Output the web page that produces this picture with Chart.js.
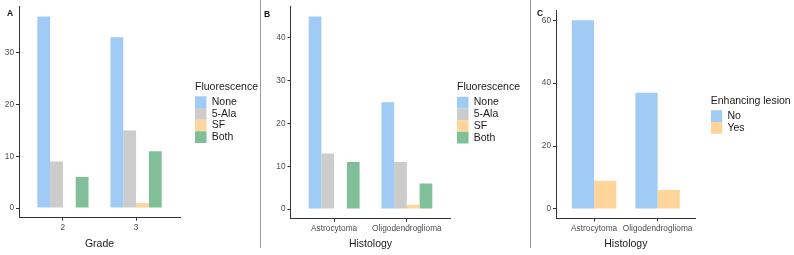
<!DOCTYPE html>
<html>
<head>
<meta charset="utf-8">
<script src="https://cdn.jsdelivr.net/npm/chart.js@4.4.1/dist/chart.umd.min.js"></script>
<style>
  body { margin: 0; background: #fff; font-family: "Liberation Sans", Arial, sans-serif; }
  #wrap { position: relative; width: 794px; height: 255px; overflow: hidden; }
  canvas { position: absolute; top: 0; }
  .sep { position: absolute; top: 0; width: 1px; height: 248px; background: #9a9a9a; }
  .tag { position: absolute; font-weight: bold; font-size: 8.5px; color: #111; line-height: 1; }
</style>
</head>
<body>
<div id="wrap">
  <canvas id="chartA" width="260" height="255" style="left:0px"></canvas>
  <canvas id="chartB" width="270" height="255" style="left:260px"></canvas>
  <canvas id="chartC" width="264" height="255" style="left:530px"></canvas>
  <div class="sep" style="left:260px"></div>
  <div class="sep" style="left:530px"></div>
  <div class="tag" style="left:7px;top:9px">A</div>
  <div class="tag" style="left:264px;top:10px">B</div>
  <div class="tag" style="left:537px;top:9px">C</div>
</div>
<script>
// panel A: grade
var gradeCats = ['2', '3'];
var gradeNone = [37, 33];
var gradeAla  = [9, 15];
var gradeSF   = [0, 1];
var gradeBoth = [6, 11];
var gradeTicks = [0, 10, 20, 30];

// panel B: histology
var histCats = ['Astrocytoma', 'Oligodendroglioma'];
var histNone = [45, 25];
var histAla  = [13, 11];
var histSF   = [0, 1];
var histBoth = [11, 6];
var histTicks = [0, 10, 20, 30, 40];

// panel C: enhancing lesion
var enhNo  = [60, 37];
var enhYes = [9, 6];
var enhTicks = [0, 20, 40, 60];

var fluoNames = ['None', '5-Ala', 'SF', 'Both'];
var fluoColors = ['#a0cbf5', '#cccccc', '#ffd59b', '#80bf98'];
var enhNames = ['No', 'Yes'];
var enhColors = ['#a0cbf5', '#ffd59b'];

Chart.defaults.font.family = '"Liberation Sans", Arial, sans-serif';

var axisCol = '#333333';
var tickCol = '#4d4d4d';
var textCol = '#1a1a1a';

function makePanel(id, cats, names, colors, series, yTicks, xTitle, legendTitle, p) {
	var datasets = [];
	for (var i in series) {
		datasets.push({
			label: names[i],
			data: series[i].map(function(v, j) { return {x: j, y: v}; }),
			backgroundColor: colors[i],
			borderWidth: 0,
			categoryPercentage: 0.7,
			barPercentage: 1
		});
	}
	var top = 0;
	series.forEach(function(s) { top = Math.max(top, Math.max.apply(null, s)); });

	// fixed legend width so the title is not cut off
	var legendWidth = {
		id: 'legendWidth',
		beforeLayout: function(chart) {
			var lg = chart.legend;
			if (lg && !lg._fixedW) {
				var fit = lg.fit;
				lg.fit = function() { fit.call(this); this.width = p.legendW; };
				lg._fixedW = true;
			}
		}
	};

	return new Chart(document.getElementById(id), {
		type: 'bar',
		data: { datasets: datasets },
		plugins: [legendWidth],
		options: {
			responsive: false,
			animation: false,
			layout: { padding: { left: 0, right: p.padRight, top: p.top, bottom: 0 } },
			plugins: {
				tooltip: { enabled: false },
				legend: {
					position: 'right',
					align: 'center',
					fullSize: false,
					title: {
						display: true, text: legendTitle, color: textCol, position: 'start',
						font: { size: 10.5 }, padding: { top: 0, bottom: 2 }
					},
					labels: {
						boxWidth: 11.5, boxHeight: 11.7, padding: 0,
						color: textCol, font: { size: 10.5 }
					}
				}
			},
			scales: {
				x: {
					type: 'linear',
					min: -0.6,
					max: cats.length - 1 + 0.6,
					offset: false,
					afterBuildTicks: function(s) { s.ticks = cats.map(function(c, j) { return {value: j}; }); },
					afterFit: function(s) { s.height = p.xh; },
					ticks: {
						callback: function(v) { return cats[v]; },
						color: tickCol, font: { size: 8.3 }, padding: 2, maxRotation: 0, autoSkip: false
					},
					grid: { drawOnChartArea: false, drawTicks: true, tickLength: 3, color: axisCol, offset: false },
					border: { color: axisCol, width: 1 },
					title: { display: true, text: xTitle, color: textCol, font: { size: 10.5 }, padding: { top: 0, bottom: 5 } }
				},
				y: {
					min: -0.05 * top,
					max: 1.05 * top,
					afterBuildTicks: function(s) { s.ticks = yTicks.map(function(v) { return {value: v}; }); },
					afterFit: function(s) { s.width = p.left; },
					ticks: { color: tickCol, font: { size: 8.3 }, padding: 2 },
					grid: { drawOnChartArea: false, drawTicks: true, tickLength: 3, color: axisCol },
					border: { color: axisCol, width: 1 }
				},
				gap: {
					type: 'linear',
					position: 'right',
					grid: { display: false },
					border: { display: false },
					ticks: { display: false },
					afterFit: function(s) { s.width = p.gap; }
				}
			}
		}
	});
}

makePanel('chartA', gradeCats, fluoNames, fluoColors,
	[gradeNone, gradeAla, gradeSF, gradeBoth], gradeTicks, 'Grade', 'Fluorescence',
	{ left: 19, top: 4.7, xh: 37.3, gap: 15, legendW: 63, padRight: 2 });

makePanel('chartB', histCats, fluoNames, fluoColors,
	[histNone, histAla, histSF, histBoth], histTicks, 'Histology', 'Fluorescence',
	{ left: 30.5, top: 5.8, xh: 36.3, gap: 6.5, legendW: 63, padRight: 10 });

makePanel('chartC', histCats, enhNames, enhColors,
	[enhNo, enhYes], enhTicks, 'Histology', 'Enhancing lesion',
	{ left: 26, top: 10.9, xh: 36.6, gap: 15, legendW: 81, padRight: 2.3 });
</script>
</body>
</html>
